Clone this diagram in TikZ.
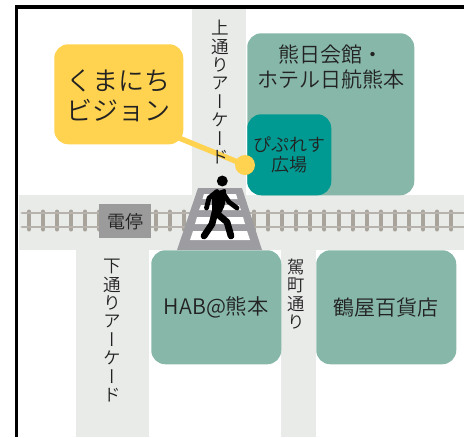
\documentclass[tikz,border=0pt]{standalone}
\usepackage{fontspec}
\setmainfont{Noto Sans CJK JP DemiLight}
\newfontfamily\vfont[RawFeature=+vert]{Noto Sans CJK JP DemiLight}
\definecolor{road}{HTML}{E9EBE9}
\definecolor{bldg}{HTML}{87B7A9}
\definecolor{plaza}{HTML}{009A92}
\definecolor{signy}{HTML}{FFD24F}
\definecolor{cross}{HTML}{9C9CA1}
\definecolor{stopc}{HTML}{9B9B9B}
\definecolor{rail}{HTML}{B7B2AB}
\definecolor{sleeper}{HTML}{A8A39B}
\definecolor{ink}{HTML}{222222}
\newcommand{\fs}[1]{\fontsize{#1}{#1}\selectfont}
\tikzset{
  x=0.75pt,y=-0.75pt,
  box/.style={rounded corners=10.5pt,inner sep=0,align=center,text=ink},
  bld/.style={box,fill=bldg},
  vtext/.style={inner sep=0,align=center,text=ink,font=\vfont\fontsize{13.2}{13.8}\selectfont},
  roadc/.style={fill=road,draw=none},
  figure/.style={line width=5pt,line cap=round,line join=round,draw=black},
}
\newcommand{\boxat}[6]{\node[#1,minimum width=#4*0.75pt,minimum height=#5*0.75pt,anchor=north west] (#2) at #3 {#6};}
\begin{document}
\begin{tikzpicture}
\useasboundingbox (0,0) rectangle (464,437);
% roads
\fill[roadc] (19,195) rectangle (464,250);
\fill[roadc] (192,8) rectangle (246,195);
\fill[roadc] (76,250) rectangle (149,437);
\fill[roadc] (281,250) rectangle (316,437);
% frame
\draw[black,line width=2.3pt] (16.5,437) -- (16.5,7) -- (464,7);
% tracks
\foreach \i in {0,...,30}{
  \draw[sleeper,line width=3pt,line cap=round] ({29+14.07*\i},211.5) -- ({29+14.07*\i},229.5);
}
\draw[rail,line width=2pt,line cap=round] (22,213) -- (464,213);
\draw[rail,line width=2pt,line cap=round] (22,227) -- (464,227);
% buildings
\boxat{bld}{hotel}{(247,33)}{167}{162}{}
\node[inner sep=0,text=ink,align=center,font=\fs{15.75}] (hoteltext) at (331,55) {熊日会館・};
\node[inner sep=0,text=ink,align=center,font=\fs{15.75}] (hoteltext2) at (331,80) {ホテル日航熊本};
\boxat{box,fill=plaza}{plaza}{(247,114)}{84}{81}{}
\node[inner sep=0,text=ink,font=\fs{13.5}] (plazaA) at (289,145) {ぴぷれす};
\node[inner sep=0,text=ink,font=\fs{13.5}] (plazaB) at (289,165) {広場};
\boxat{bld}{hab}{(151,250)}{130}{114}{\fs{16}HAB@熊本}
\boxat{bld}{tsuruya}{(316,250)}{140}{114}{\fs{15.75}鶴屋百貨店}
% crossing
\fill[cross] (198,188) -- (242,188) -- (262,250) -- (177,250) -- cycle;
\fill[white] (204,194) -- (236,194) -- (237.5,199) -- (202.5,199) -- cycle;
\fill[white] (201,205) -- (239,205) -- (241,210) -- (199,210) -- cycle;
\fill[white] (197,217) -- (243,217) -- (245,224) -- (195,224) -- cycle;
\fill[white] (193,231) -- (247,231) -- (250,240) -- (190,240) -- cycle;
% pedestrian
\fill[black] (222.3,181) circle (4.1pt);
\fill[black,rounded corners=1.5pt] (212,193) -- (226,188.5) -- (225,205) -- (219,217) -- (212,214) -- cycle;
\draw[figure,line width=3.6pt] (217,191.5) -- (209,198) -- (206.5,208);
\draw[figure,line width=3.6pt] (223,193) -- (229,202) -- (237,208);
\draw[figure] (215,212) -- (212,224) -- (204,236);
\draw[figure] (215,212) -- (227,222) -- (231,236);
% stop
\boxat{box,rounded corners=0pt,fill=stopc}{stop}{(99,204)}{52}{34}{\fs{13.5}電停}
% sign
\boxat{box,fill=signy}{sign}{(54,44)}{129}{100}{}
\node[inner sep=0,text=ink,font=\fs{19.5}] (signA) at (118.5,81) {くまにち};
\node[inner sep=0,text=ink,font=\fs{19.5}] (signB) at (118.5,111) {ビジョン};
\node[circle,fill=signy,minimum size=15pt,inner sep=0] (dot) at (245,165) {};
\draw[signy,line width=4pt] (sign.south east) ++(-8,-8) -- (dot.center);
% vertical labels
\node[vtext,anchor=north] (kami) at (220,20) {上\\通\\り\\ア\\ー\\ケ\\ー\\ド};
\node[vtext,anchor=north] (shimo) at (112.5,259) {下\\通\\り\\ア\\ー\\ケ\\ー\\ド};
\node[vtext,anchor=north,font=\vfont\fontsize{13}{13.6}\selectfont] (kaji) at (296.5,259) {駕\\町\\通\\り};
\end{tikzpicture}
\end{document}
